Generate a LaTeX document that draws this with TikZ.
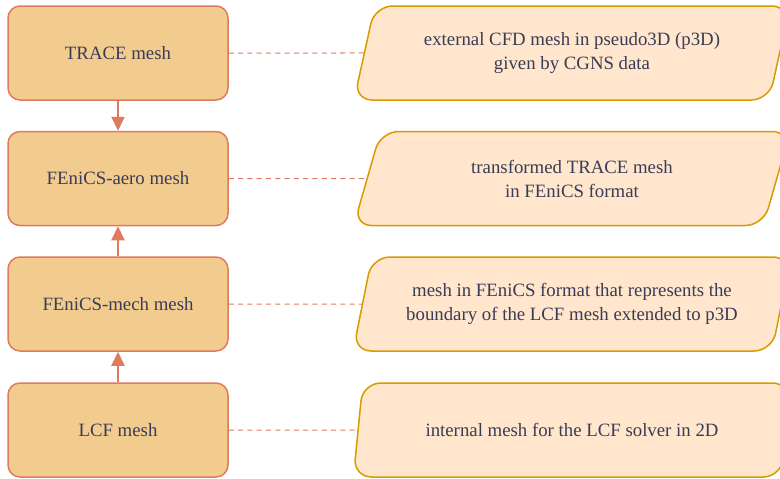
\documentclass[tikz,border=0pt]{standalone}
\usepackage{fontspec}
\setmainfont{LiberationSerif}[Extension=.ttf, UprightFont=*-Regular, BoldFont=*-Bold]
\usetikzlibrary{shapes.geometric,arrows.meta}

\definecolor{meshfill}{HTML}{F2CC8F}
\definecolor{meshline}{HTML}{E07A5F}
\definecolor{notefill}{HTML}{FFE6CC}
\definecolor{noteline}{HTML}{D79B00}
\definecolor{meshtext}{HTML}{393C56}

\tikzset{
	meshbox/.style={draw=meshline, fill=meshfill, line width=1.5pt, rounded corners=12pt,
		minimum width=220pt, minimum height=94pt, text=meshtext, font=\fontsize{18.8}{24}\selectfont},
	notebox/.style={trapezium, trapezium left angle=71.6, trapezium right angle=108.4, trapezium stretches=true,
		draw=noteline, fill=notefill, line width=1.5pt, rounded corners=18pt,
		minimum width=438pt, minimum height=94pt, text=meshtext, align=center, font=\fontsize{18.8}{24}\selectfont},
	meshflow/.style={draw=meshline, line width=2pt, -{Triangle[length=14pt,width=13pt]}},
	notelink/.style={draw=meshline, line width=1pt, dash pattern=on 5pt off 4.3pt},
}

\begin{document}
\begin{tikzpicture}[x=1pt, y=-1pt]
		%%%%% START %%%%%
		\useasboundingbox (0, 0) rectangle (780, 479);
		
		% meshes
		\node[meshbox] (trace) at (118, 53) {TRACE mesh};
		\node[meshbox] (aero) at (118, 178.5) {FEniCS-aero mesh};
		\node[meshbox] (mech) at (118, 304) {FEniCS-mech mesh};
		\node[meshbox] (lcf) at (118, 430) {LCF mesh};
		
		% descriptions
		\node[notebox] (tracenote) at (572, 53) {external CFD mesh in pseudo3D (p3D)\\given by CGNS data};
		\node[notebox] (aeronote) at (572, 178.5) {transformed TRACE mesh\\in FEniCS format};
		\node[notebox] (mechnote) at (572, 304) {mesh in FEniCS format that represents the\\boundary of the LCF mesh extended to p3D};
		\node[notebox] (lcfnote) at (572, 430) {internal mesh for the LCF solver in 2D};
		
		\draw[meshflow] (trace) -- (aero);
		\draw[meshflow] (mech) -- (aero);
		\draw[meshflow] (lcf) -- (mech);
		
		\draw[notelink] (trace.east) -- (tracenote);
		\draw[notelink] (aero.east) -- (aeronote);
		\draw[notelink] (mech.east) -- (mechnote);
		\draw[notelink] (lcf.east) -- (lcfnote);
		
		%%%%% END %%%%%
	\end{tikzpicture}
\end{document}
